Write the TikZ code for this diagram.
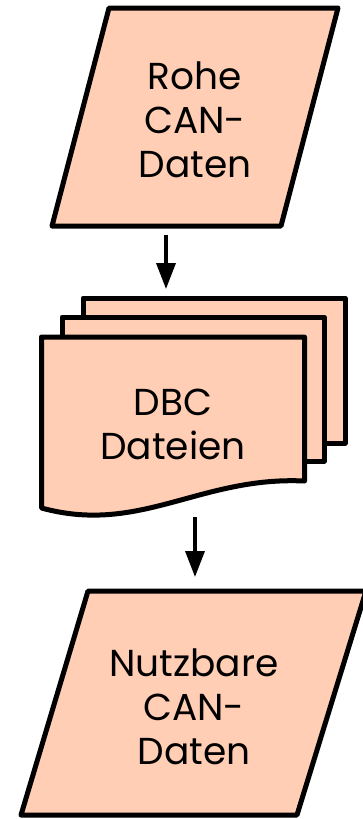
\documentclass[tikz,border=0pt]{standalone}
\usepackage{fontspec}
\setmainfont{Poppins}
\usetikzlibrary{arrows.meta}
\definecolor{shapefill}{RGB}{255,206,180}
\tikzset{
  shapebox/.style={draw=black, fill=shapefill, line width=5pt, line join=round},
  label/.style={align=center, font=\fontsize{37.5}{44}\selectfont, inner sep=0pt},
  flow/.style={line width=3.5pt, -{Triangle[length=26pt,width=19pt]}}
}
\begin{document}
\begin{tikzpicture}[x=1pt,y=-1pt]
\useasboundingbox (0,0) rectangle (363,819);
\begin{scope}
\clip (0,0) rectangle (363,819);
% top parallelogram
\draw[shapebox] (109,8) -- (338,8) -- (281,226) -- (52,226) -- cycle;
\node[label] (raw) at (195,120) {Rohe\\CAN-\\Daten};
% documents stack
\draw[shapebox] (83,298) rectangle (345,443);
\draw[shapebox] (62,317) rectangle (324,461);
\draw[shapebox] (41.5,337) -- (304.5,337) -- (304.5,481)
  .. controls (200,476) and (140,535) .. (41.5,508) -- cycle;
\node[label] (dbc) at (173,424.5) {DBC\\Dateien};
% bottom parallelogram
\draw[shapebox] (88,591) -- (366,591) -- (297,815) -- (21,815) -- cycle;
\node[label] (use) at (194,706.5) {Nutzbare\\CAN-\\Daten};
\end{scope}
% connectors
\coordinate (a1s) at (166,235);
\coordinate (a1e) at (166,289);
\coordinate (a2s) at (195,517);
\coordinate (a2e) at (195,577);
\draw[flow] (a1s) -- (a1e);
\draw[flow] (a2s) -- (a2e);
\end{tikzpicture}
\end{document}
